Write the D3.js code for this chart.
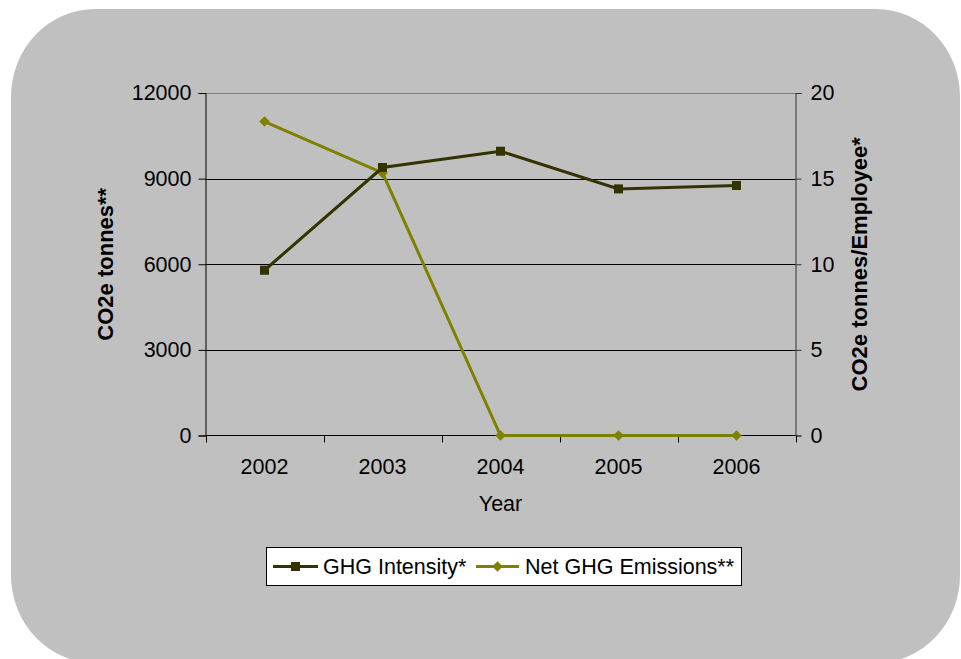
<!DOCTYPE html>
<html>
<head>
<meta charset="utf-8">
<script src="https://cdn.jsdelivr.net/npm/d3@7"></script>
<style>
  html, body { margin: 0; padding: 0; background: #ffffff; }
  svg { display: block; }
  text { font-family: "Liberation Sans", Arial, sans-serif; fill: #000; }
</style>
</head>
<body>
<svg id="chart" width="961" height="659"></svg>
<script>
const years = ["2002", "2003", "2004", "2005", "2006"];
const ghgIntensity = [9.65, 15.65, 16.6, 14.4, 14.6];      // right axis
const netEmissions = [11000, 9200, 0, 0, 0];                // left axis
const leftTicks = [0, 3000, 6000, 9000, 12000];
const rightTicks = [0, 5, 10, 15, 20];
const seriesNames = ["GHG Intensity*", "Net GHG Emissions**"];
const seriesColors = ["#333300", "#808000"];

const svg = d3.select("#chart");

// background rounded panel
svg.append("rect")
  .attr("x", 11).attr("y", 9)
  .attr("width", 949).attr("height", 654)
  .attr("rx", 84).attr("ry", 88)
  .attr("fill", "#c0c0c0");

const L = 205.5, R = 795.5, T = 93, B = 435.5;
const FS = "21.5px";

const x = d3.scaleBand().domain(years).range([L, R]);
const yL = d3.scaleLinear().domain([0, 12000]).range([B, T]);
const yR = d3.scaleLinear().domain([0, 20]).range([B, T]);

// gridlines
svg.append("g").selectAll("line")
  .data(leftTicks.filter(d => d > 0))
  .join("line")
  .attr("x1", L).attr("x2", R)
  .attr("y1", d => Math.round(yL(d)) + 0.5).attr("y2", d => Math.round(yL(d)) + 0.5)
  .attr("stroke", d => d === 12000 ? "#808080" : "#000")
  .attr("stroke-width", 1);

// left axis
const gL = svg.append("g").attr("transform", `translate(${L},0)`)
  .call(d3.axisLeft(yL).tickValues(leftTicks).tickSize(7).tickPadding(7).tickFormat(d3.format("d")));
gL.select(".domain").attr("stroke", "#000");
gL.selectAll(".tick line").attr("stroke", "#000");
gL.selectAll("text").style("font-size", FS).style("font-family", "Liberation Sans, Arial, sans-serif");

// right axis
const gR = svg.append("g").attr("transform", `translate(${R},0)`)
  .call(d3.axisRight(yR).tickValues(rightTicks).tickSize(6).tickPadding(9));
gR.select(".domain").attr("stroke", "#333");
gR.selectAll(".tick line").attr("stroke", "#333");
gR.selectAll("text").style("font-size", FS).style("font-family", "Liberation Sans, Arial, sans-serif");

// bottom axis
const gB = svg.append("g").attr("transform", `translate(0,${B})`)
  .call(d3.axisBottom(x).tickSize(0).tickPadding(23));
gB.select(".domain").attr("stroke", "#000").attr("d", `M${L},0H${R}`);
gB.selectAll("text").style("font-size", FS).style("font-family", "Liberation Sans, Arial, sans-serif");
// category boundary ticks
const bounds = years.map(d => x(d)).concat([R]);
svg.append("g").selectAll("line").data(bounds).join("line")
  .attr("x1", d => Math.round(d) + 0.5).attr("x2", d => Math.round(d) + 0.5)
  .attr("y1", B).attr("y2", B + 7)
  .attr("stroke", "#000");

// axis titles
svg.append("text")
  .attr("transform", `translate(113,${(T + B) / 2}) rotate(-90)`)
  .attr("text-anchor", "middle")
  .style("font-size", "22px").style("font-weight", "bold")
  .text("CO2e tonnes**");
svg.append("text")
  .attr("transform", `translate(867,${(T + B) / 2}) rotate(-90)`)
  .attr("text-anchor", "middle")
  .style("font-size", "22px").style("font-weight", "bold")
  .text("CO2e tonnes/Employee*");
svg.append("text")
  .attr("x", (L + R) / 2).attr("y", 511)
  .attr("text-anchor", "middle")
  .style("font-size", FS)
  .text("Year");

const cx = d => x(d) + x.bandwidth() / 2;

// Net GHG emissions (left axis)
const netData = years.map((y, i) => ({ y, v: netEmissions[i] }));
svg.append("path").datum(netData)
  .attr("fill", "none").attr("stroke", seriesColors[1]).attr("stroke-width", 3)
  .attr("d", d3.line().x(d => cx(d.y)).y(d => yL(d.v)));
svg.append("g").selectAll("path").data(netData).join("path")
  .attr("transform", d => `translate(${cx(d.y)},${yL(d.v)})`)
  .attr("d", d3.symbol(d3.symbolDiamond2, 70))
  .attr("fill", seriesColors[1]);

// GHG intensity (right axis)
const intData = years.map((y, i) => ({ y, v: ghgIntensity[i] }));
svg.append("path").datum(intData)
  .attr("fill", "none").attr("stroke", seriesColors[0]).attr("stroke-width", 3)
  .attr("d", d3.line().x(d => cx(d.y)).y(d => yR(d.v)));
svg.append("g").selectAll("rect").data(intData).join("rect")
  .attr("x", d => cx(d.y) - 4.5).attr("y", d => yR(d.v) - 4.5)
  .attr("width", 9).attr("height", 9)
  .attr("fill", seriesColors[0]);

// Legend
const lg = svg.append("g");
lg.append("rect")
  .attr("x", 266.5).attr("y", 547.5).attr("width", 475).attr("height", 38)
  .attr("fill", "#fff").attr("stroke", "#000").attr("stroke-width", 1);
const legendItems = [
  { name: seriesNames[0], color: seriesColors[0], x0: 273, x1: 318, tx: 323, shape: "square" },
  { name: seriesNames[1], color: seriesColors[1], x0: 476, x1: 519, tx: 525, shape: "diamond" }
];
legendItems.forEach(it => {
  const ly = 566.5;
  lg.append("line").attr("x1", it.x0).attr("x2", it.x1).attr("y1", ly).attr("y2", ly)
    .attr("stroke", it.color).attr("stroke-width", 3);
  const mx = (it.x0 + it.x1) / 2;
  if (it.shape === "square") {
    lg.append("rect").attr("x", mx - 4.5).attr("y", ly - 4.5).attr("width", 9).attr("height", 9).attr("fill", it.color);
  } else {
    lg.append("path").attr("transform", `translate(${mx},${ly})`)
      .attr("d", d3.symbol(d3.symbolDiamond2, 70)).attr("fill", it.color);
  }
  lg.append("text").attr("x", it.tx).attr("y", ly + 7.5)
    .style("font-size", FS).text(it.name);
});
</script>
</body>
</html>
